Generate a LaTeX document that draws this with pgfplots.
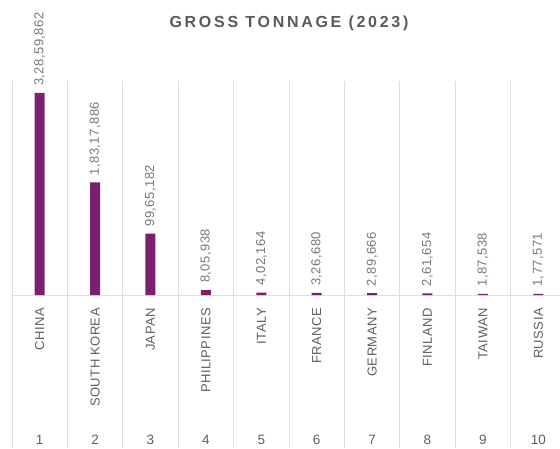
\documentclass[border=0pt]{standalone}
\usepackage{pgfplots}
\pgfplotsset{compat=1.18}
\usepackage{fontspec}
\setmainfont{Liberation Sans}
\newfontfamily\titlefont[LetterSpace=17]{Liberation Sans}
\newfontfamily\catfont[LetterSpace=3.5]{Liberation Sans}
\newfontfamily\valfont[LetterSpace=3.5]{Liberation Sans}
\definecolor{barcol}{RGB}{123,31,110}
\definecolor{titlegray}{RGB}{90,90,90}
\definecolor{labelgray}{RGB}{95,95,95}
\definecolor{valgray}{RGB}{120,120,120}
\definecolor{gridgray}{RGB}{222,222,222}
\pgfplotstableread{
x y label
1 32859862 3,28,59,862
2 18317886 1,83,17,886
3 9965182 99,65,182
4 805938 8,05,938
5 402164 4,02,164
6 326680 3,26,680
7 289666 2,89,666
8 261654 2,61,654
9 187538 1,87,538
10 177571 1,77,571
}\datatable
\begin{document}
\begin{tikzpicture}
\path[use as bounding box] (0,0) rectangle (560pt,448pt);
\node[font=\titlefont\bfseries\fontsize{16}{19}\selectfont, text=titlegray] at (289pt,425pt) {GROSS TONNAGE (2023)};
\begin{axis}[
  at={(12pt,0pt)}, anchor=south west,
  scale only axis, width=548pt, height=367pt,
  xmin=0.5, xmax=10.392, ymin=-24889000, ymax=34812000,
  axis line style={draw=none},
  ytick=\empty,
  xtick={1,...,10},
  xticklabels={CHINA,SOUTH KOREA,JAPAN,PHILIPPINES,ITALY,FRANCE,GERMANY,FINLAND,TAIWAN,RUSSIA},
  minor xtick={0.5,1.5,...,9.5},
  xminorgrids=true,
  minor grid style={gridgray, line width=0.9pt},
  major tick length=0pt, minor tick length=0pt,
  xticklabel style={rotate=90, anchor=east, font=\catfont\fontsize{13}{15}\selectfont, text=labelgray, inner sep=0pt},
  xticklabel shift=-140pt,
  extra y ticks={0}, extra y tick labels={},
  extra y tick style={grid=major, major grid style={gridgray, line width=0.9pt}},
  ybar, bar width=10pt, clip=false,
  nodes near coords, point meta=explicit symbolic,
  nodes near coords style={rotate=90, anchor=west, inner xsep=7pt, inner ysep=0pt, font=\valfont\fontsize{13}{15}\selectfont, text=valgray},
]
\addplot[fill=barcol, draw=none] table[x=x, y=y, meta=label] {\datatable};
\pgfplotsinvokeforeach{1,...,10}{
  \node[font=\fontsize{13.5}{15}\selectfont, text=labelgray] at (axis cs:#1,-23587000) {#1};
}
\end{axis}
\end{tikzpicture}
\end{document}
